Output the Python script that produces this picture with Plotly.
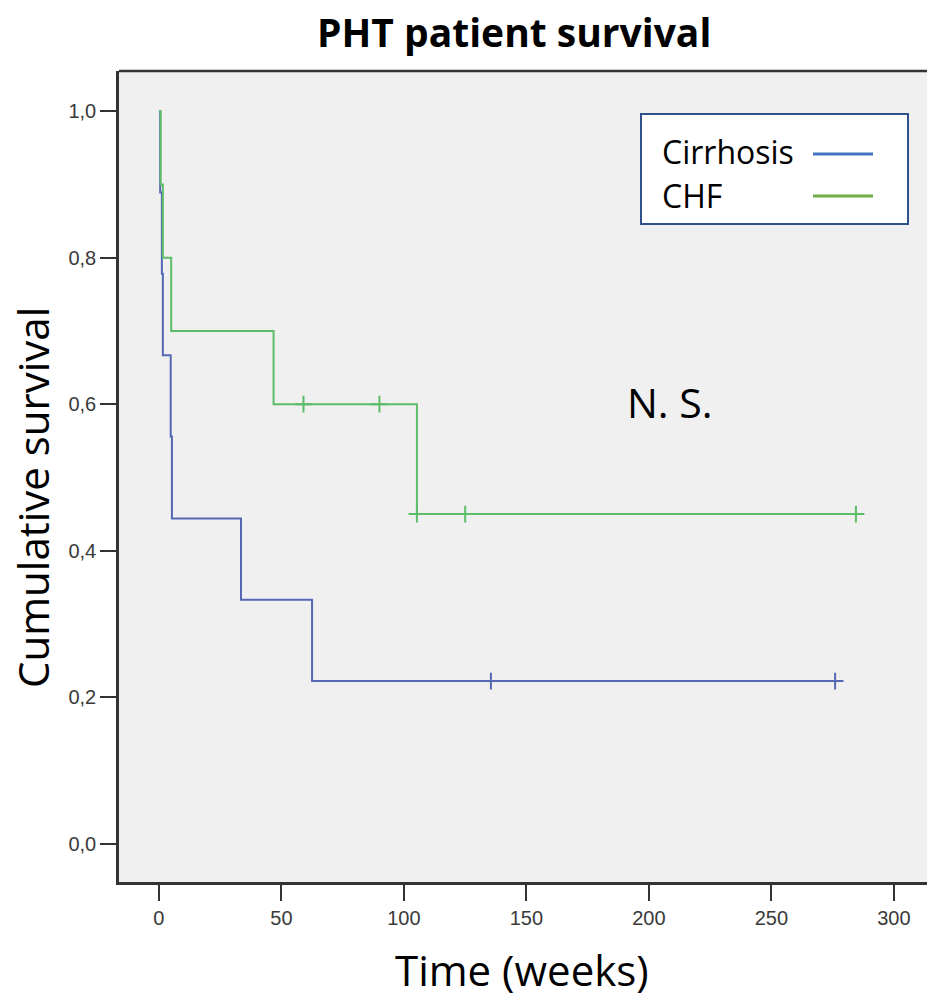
import plotly.graph_objects as go

# ---- data ----
cirr_time = [0, 0.5, 1.2, 1.6, 4.8, 5.3, 33.5, 62.5, 135.5, 276]
cirr_surv = [1.0, 0.889, 0.778, 0.667, 0.556, 0.444, 0.333, 0.222, 0.222, 0.222]
cirr_cens_time = [135.5, 276]
cirr_cens_surv = [0.222, 0.222]

chf_time = [0, 0.7, 1.6, 5.0, 46.8, 59, 90, 105.3, 125, 284.5]
chf_surv = [1.0, 0.9, 0.8, 0.7, 0.6, 0.6, 0.6, 0.45, 0.45, 0.45]
chf_cens_time = [59, 90, 105.3, 125, 284.5]
chf_cens_surv = [0.6, 0.6, 0.45, 0.45, 0.45]

x_ticks = [0, 50, 100, 150, 200, 250, 300]
y_ticks = [0.0, 0.2, 0.4, 0.6, 0.8, 1.0]

BLUE = "#5468b3"
GREEN = "#5bbd68"
LEG_BLUE = "#4472c4"
LEG_GREEN = "#70ad47"

W, H = 927, 1005
# plot area in page pixels: x 119..927, y 71..882
ML, MT, MR = 119, 71, 0
MB = H - 882


def px(x):
    """page pixel x -> paper coordinate"""
    return (x - ML) / (W - ML - MR)


def py(y):
    """page pixel y -> paper coordinate"""
    return (H - MB - y) / (H - MB - MT)


fig = go.Figure()
fig.add_trace(go.Scatter(x=cirr_time, y=cirr_surv, mode="lines", line_shape="hv",
                         line=dict(color=BLUE, width=2), showlegend=False))
fig.add_trace(go.Scatter(x=chf_time, y=chf_surv, mode="lines", line_shape="hv",
                         line=dict(color=GREEN, width=2), showlegend=False))
fig.add_trace(go.Scatter(x=cirr_cens_time, y=cirr_cens_surv, mode="markers",
                         marker=dict(symbol="cross-thin", size=12,
                                     line=dict(color=BLUE, width=2)),
                         showlegend=False))
fig.add_trace(go.Scatter(x=chf_cens_time, y=chf_cens_surv, mode="markers",
                         marker=dict(symbol="cross-thin", size=12,
                                     line=dict(color=GREEN, width=2)),
                         showlegend=False))

axis_common = dict(showgrid=False, zeroline=False, showline=True, linecolor="#333333",
                   linewidth=2.5, ticks="outside", ticklen=16, tickwidth=2,
                   tickcolor="#333333",
                   tickfont=dict(family="Liberation Sans", size=20, color="#3a3a3a"))

fig.update_xaxes(range=[-16.3, 313.5], tickvals=x_ticks, **axis_common)
fig.update_yaxes(range=[-0.0524, 1.055], tickvals=y_ticks, tickformat=".1f", **axis_common)

shapes = [
    # top frame line
    dict(type="line", xref="paper", yref="paper", x0=0, x1=1, y0=1, y1=1,
         line=dict(color="#333333", width=2.5), layer="above"),
    dict(type="rect", xref="paper", yref="paper", x0=px(641), x1=px(908), y0=py(114), y1=py(224),
         line=dict(color="#2f528f", width=2), fillcolor="white", layer="above"),
    dict(type="line", xref="paper", yref="paper", x0=px(813), x1=px(873), y0=py(154), y1=py(154),
         line=dict(color=LEG_BLUE, width=3), layer="above"),
    dict(type="line", xref="paper", yref="paper", x0=px(813), x1=px(873), y0=py(196), y1=py(196),
         line=dict(color=LEG_GREEN, width=3), layer="above"),
]

annotations = [
    dict(text="<b>PHT patient survival</b>", xref="paper", yref="paper", x=px(514), y=py(31),
         showarrow=False, xanchor="center", yanchor="middle",
         font=dict(family="Open Sans", size=39, color="black")),
    dict(text="Cumulative survival", xref="paper", yref="paper", x=px(32), y=py(498),
         textangle=-90, showarrow=False, xanchor="center", yanchor="middle",
         font=dict(family="Open Sans", size=42, color="black")),
    dict(text="Time (weeks)", xref="paper", yref="paper", x=px(522), y=py(969),
         showarrow=False, xanchor="center", yanchor="middle",
         font=dict(family="Open Sans", size=42, color="black")),
    dict(text="N. S.", xref="paper", yref="paper", x=px(670), y=py(402),
         showarrow=False, xanchor="center", yanchor="middle",
         font=dict(family="Open Sans", size=41, color="black")),
    dict(text="Cirrhosis", xref="paper", yref="paper", x=px(660), y=py(152),
         showarrow=False, xanchor="left", yanchor="middle",
         font=dict(family="Open Sans", size=32, color="black")),
    dict(text="CHF", xref="paper", yref="paper", x=px(660), y=py(195),
         showarrow=False, xanchor="left", yanchor="middle",
         font=dict(family="Open Sans", size=32, color="black")),
]

fig.update_layout(
    width=W, height=H,
    margin=dict(l=ML, r=MR, t=MT, b=MB),
    paper_bgcolor="white", plot_bgcolor="#f0f0f0",
    separators=", ",
    shapes=shapes, annotations=annotations,
    showlegend=False,
)

fig.write_html(
    "out.html",
    config={"displayModeBar": False},
    post_script=(
        "document.body.style.margin='0';"
        "document.body.style.overflow='hidden';"
        "document.documentElement.style.overflow='hidden';"
    ),
)
